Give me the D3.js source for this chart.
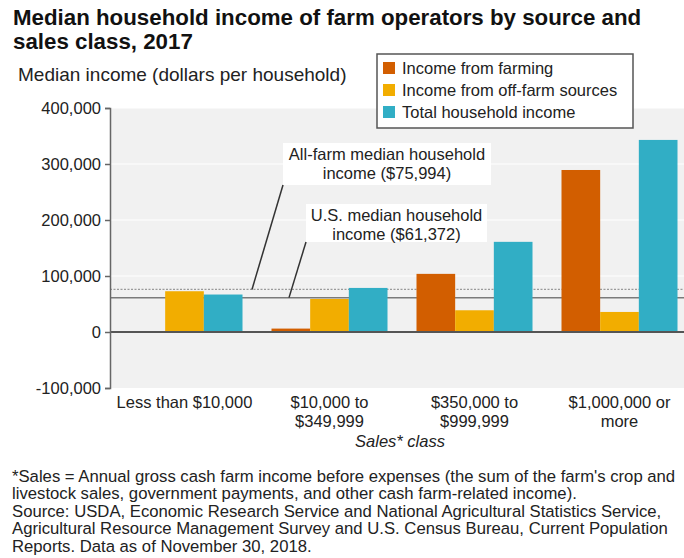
<!DOCTYPE html>
<html>
<head>
<meta charset="utf-8">
<script src="https://cdn.jsdelivr.net/npm/d3@7"></script>
<style>
  body{margin:0;background:#fff;}
  svg{display:block;font-family:"Liberation Sans",Arial,sans-serif;}
</style>
</head>
<body>
<svg id="chart" width="684" height="558"></svg>
<script>
const categories=["Less than $10,000","$10,000 to\n$349,999","$350,000 to\n$999,999","$1,000,000 or\nmore"];
const seriesNames=["Income from farming","Income from off-farm sources","Total household income"];
const farming=[-1500,6100,103800,289300];
const offFarm=[72800,59000,38800,35800];
const total=[66900,78700,161000,343000];
const yTicks=[-100000,0,100000,200000,300000,400000];
const allFarmMedian=75994;
const usMedian=61372;
const footnote=[
  "*Sales = Annual gross cash farm income before expenses (the sum of the farm's crop and",
  "livestock sales, government payments, and other cash farm-related income).",
  "Source: USDA, Economic Research Service and National Agricultural Statistics Service,",
  "Agricultural Resource Management Survey and U.S. Census Bureau, Current Population",
  "Reports. Data as of November 30, 2018."
];

const colors=["#d25e00","#f2ad00","#31aec5"];
const svg=d3.select("#chart");
const plotL=110,plotR=692,plotT=108,plotB=388;

let y=d3.scaleLinear().domain([-100000,400000]).range([plotB,plotT]);
let x=d3.scaleBand().domain(categories).range([112,692]).paddingInner(0.2).paddingOuter(0.1);
let xs=d3.scaleBand().domain(seriesNames).range([0,x.bandwidth()]);

// title
svg.append("g").selectAll("text")
  .data(["Median household income of farm operators by source and","sales class, 2017"])
  .enter().append("text")
    .attr("x",13).attr("y",(d,i)=>25+i*24)
    .attr("font-size",22.3).attr("font-weight","bold").attr("fill","#111")
    .text(d=>d);

svg.append("text")
  .attr("x",18).attr("y",81)
  .attr("font-size",19).attr("fill","#222")
  .text("Median income (dollars per household)");

// plot background + grid
svg.append("rect")
  .attr("x",plotL).attr("y",plotT).attr("width",plotR-plotL).attr("height",plotB-plotT)
  .attr("fill","#f1f1f1");
svg.append("g").selectAll("line")
  .data(yTicks.filter(t=>t!==0&&t!==-100000))
  .enter().append("line")
    .attr("x1",plotL).attr("x2",plotR)
    .attr("y1",d=>y(d)).attr("y2",d=>y(d))
    .attr("stroke","#fff").attr("stroke-width",1.2);

// reference lines
svg.append("line")
  .attr("x1",plotL).attr("x2",plotR)
  .attr("y1",y(allFarmMedian)).attr("y2",y(allFarmMedian))
  .attr("stroke","#9a9a9a").attr("stroke-width",1.2).attr("stroke-dasharray","2,1.5");
svg.append("line")
  .attr("x1",plotL).attr("x2",plotR)
  .attr("y1",y(usMedian)).attr("y2",y(usMedian))
  .attr("stroke","#7a7a7a").attr("stroke-width",1.5);

// bars
const table=categories.map((c,i)=>({cat:c,vals:[farming[i],offFarm[i],total[i]]}));
let groups=svg.append("g").selectAll("g")
  .data(table)
  .enter().append("g")
    .attr("transform",d=>`translate(${x(d.cat)},0)`);
groups.selectAll("rect")
  .data(d=>d.vals.map((v,j)=>({name:seriesNames[j],v:v,j:j})))
  .enter().append("rect")
    .attr("x",d=>xs(d.name))
    .attr("width",xs.bandwidth())
    .attr("y",d=>y(Math.max(0,d.v)))
    .attr("height",d=>Math.abs(y(d.v)-y(0)))
    .attr("fill",d=>colors[d.j]);

// zero line
svg.append("line")
  .attr("x1",plotL).attr("x2",plotR)
  .attr("y1",y(0)).attr("y2",y(0))
  .attr("stroke","#555").attr("stroke-width",2);

// y axis
let yAxis=svg.append("g")
  .attr("transform",`translate(${plotL},0)`)
  .call(d3.axisLeft(y).tickValues(yTicks).tickFormat(d=>d3.format(",")(d).replace("\u2212","-")).tickSize(5).tickPadding(4));
yAxis.select(".domain").attr("stroke","#666").attr("stroke-width",1.5);
yAxis.selectAll(".tick line").attr("stroke","#666").attr("stroke-width",1.5);
yAxis.selectAll(".tick text")
  .attr("font-family","Liberation Sans,Arial,sans-serif")
  .attr("font-size",16.5).attr("fill","#222");

// x labels
let xl=svg.append("g").selectAll("text")
  .data(categories)
  .enter().append("text")
    .attr("text-anchor","middle")
    .attr("font-size",16.5).attr("fill","#222")
    .attr("transform",d=>`translate(${x(d)+x.bandwidth()/2},408)`);
xl.selectAll("tspan")
  .data(d=>d.split("\n"))
  .enter().append("tspan")
    .attr("x",0).attr("y",(d,i)=>i*19)
    .text(d=>d);
svg.append("text")
  .attr("x",400).attr("y",447)
  .attr("text-anchor","middle").attr("font-size",16.5).attr("font-style","italic").attr("fill","#222")
  .text("Sales* class");

// annotations
const annotations=[
  {lines:["All-farm median household","income ($75,994)"],box:[283,143,208,42],from:[283,185],to:[252,y(allFarmMedian)]},
  {lines:["U.S. median household","income ($61,372)"],box:[306,204,181,38],from:[306,242],to:[289,y(usMedian)]}
];
annotations.forEach(a=>{
  svg.append("line")
    .attr("x1",a.from[0]).attr("y1",a.from[1]).attr("x2",a.to[0]).attr("y2",a.to[1])
    .attr("stroke","#333").attr("stroke-width",1.5);
  svg.append("rect")
    .attr("x",a.box[0]).attr("y",a.box[1]).attr("width",a.box[2]).attr("height",a.box[3])
    .attr("fill","#fff");
  svg.append("g").selectAll("text")
    .data(a.lines)
    .enter().append("text")
      .attr("x",a.box[0]+a.box[2]/2).attr("y",(d,i)=>a.box[1]+17+i*19)
      .attr("text-anchor","middle").attr("font-size",16.5).attr("fill","#222")
      .text(d=>d);
});

// legend
let legend=svg.append("g").attr("transform","translate(377,54)");
legend.append("rect")
  .attr("width",256).attr("height",74)
  .attr("fill","#fff").attr("stroke","#555").attr("stroke-width",1.5);
let li=legend.selectAll("g")
  .data(seriesNames)
  .enter().append("g")
    .attr("transform",(d,i)=>`translate(6,${8+i*22})`);
li.append("rect").attr("width",12).attr("height",12).attr("fill",(d,i)=>colors[i]);
li.append("text").attr("x",19).attr("y",11.5).attr("font-size",16.5).attr("fill","#222").text(d=>d);

// footnote
svg.append("g").selectAll("text")
  .data(footnote)
  .enter().append("text")
    .attr("x",12).attr("y",(d,i)=>482+i*17.4)
    .attr("font-size",16.7).attr("fill","#222")
    .text(d=>d);
</script>
</body>
</html>
